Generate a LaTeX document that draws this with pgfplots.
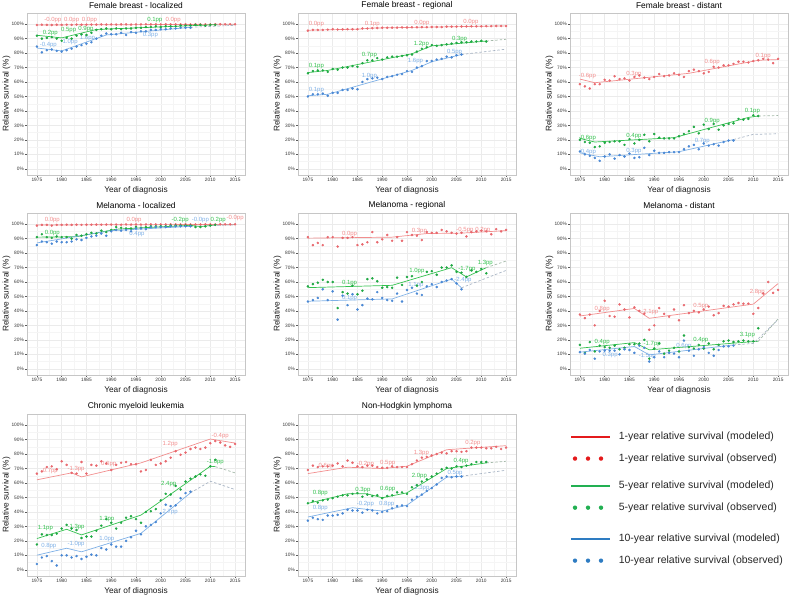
\documentclass[border=0pt]{standalone}
\usepackage{pgfplots}
\pgfplotsset{compat=1.18}
\usepackage{fontspec}
\setmainfont{Liberation Sans}

\definecolor{r1line}{HTML}{F28E8E}
\definecolor{r1pt}{HTML}{E8686E}
\definecolor{g5line}{HTML}{33C14E}
\definecolor{g5pt}{HTML}{1FA843}
\definecolor{b10line}{HTML}{7EB0E6}
\definecolor{b10pt}{HTML}{4A88D4}
\definecolor{d5col}{HTML}{A3B8A8}
\definecolor{d10col}{HTML}{A8B4C4}
\definecolor{c1L}{HTML}{E41A1C}
\definecolor{c5L}{HTML}{22B052}
\definecolor{c10L}{HTML}{2E7CC2}

\pgfplotsset{
  panel/.style={
    scale only axis, width=218pt, height=162pt, anchor=south west,
    xmin=1973, xmax=2017, ymin=-4.3, ymax=107.7,
    xtick={1975,1980,...,2015}, ytick={0,10,...,100},
    minor xtick={1977.5,1982.5,...,2012.5}, minor ytick={5,15,...,95},
    grid=both,
    major grid style={draw=gray!16, line width=0.4pt},
    minor grid style={draw=gray!8, line width=0.3pt},
    axis line style={draw=gray!45, line width=0.6pt},
    tick align=outside, tick pos=left,
    major tick length=2pt, minor tick length=0pt,
    tick style={draw=black!65, line width=0.4pt},
    /pgf/number format/assume math mode=true,
    ticklabel style={font=\fontsize{4.8}{5}\selectfont, text=black!80, inner sep=1pt},
    xticklabel style={/pgf/number format/1000 sep={}},
    yticklabel={\pgfmathprintnumber{\tick}\%},
    xlabel={Year of diagnosis}, ylabel={Relative survival (\%)},
    label style={font=\fontsize{8.3}{9}\selectfont, text=black!90},
    xlabel style={at={(0.5,-0.0926)}, anchor=center},
    ylabel style={at={(-0.094,0.5)}, anchor=center},
    every axis title shift=0pt,
    title style={at={(0.5,1.045)}, anchor=center, font=\fontsize{8.4}{9}\selectfont, inner sep=0pt},
    clip=false,
  },
  o1/.style={only marks, mark=*, mark size=1.05pt, color=r1pt},
  o5/.style={only marks, mark=*, mark size=1.05pt, color=g5pt},
  o10/.style={only marks, mark=*, mark size=1.05pt, color=b10pt},
  m1/.style={no marks, color=r1line, line width=0.7pt},
  m5/.style={no marks, color=g5line, line width=0.7pt},
  m10/.style={no marks, color=b10line, line width=0.7pt},
  d5/.style={no marks, color=d5col, line width=0.7pt, dash pattern=on 2.5pt off 2pt},
  d10/.style={no marks, color=d10col, line width=0.7pt, dash pattern=on 2.5pt off 2pt},
  legaxis/.style={hide axis, scale only axis, width=218pt, height=162pt,
    at={(570pt,19pt)}, anchor=south west, xmin=0, xmax=1, ymin=0, ymax=1,
    legend cell align=left,
    legend style={draw=none, fill=none, inner sep=0pt, anchor=north west,
      font=\fontsize{10.5}{12}\selectfont, text=black!85, row sep=12pt,
      nodes={inner sep=0pt, text height=7.6pt, text depth=2pt},
      /tikz/every odd column/.append style={column sep=8pt}}},
}
\tikzset{
  l1/.style={text=r1line, font=\fontsize{6}{6}\selectfont, inner sep=0pt},
  l5/.style={text=g5line, font=\fontsize{6}{6}\selectfont, inner sep=0pt},
  l10/.style={text=b10line, font=\fontsize{6}{6}\selectfont, inner sep=0pt},
}
\newcommand{\legline}[1]{\addlegendimage{no marks, legend image code/.code={\draw[#1, line width=1.6pt] (0pt,0pt) -- (39pt,0pt);}}}
\newcommand{\legdots}[1]{\addlegendimage{no marks, draw=none, legend image code/.code={\path[draw=none] (0pt,0pt) -- (39pt,0pt);
      \fill[#1, draw=none] (4pt,0pt) circle (2.2pt) (17pt,0pt) circle (2.2pt) (30pt,0pt) circle (2.2pt);}}}

\begin{document}
\begin{tikzpicture}
\path[use as bounding box] (0pt,0pt) rectangle (790pt,595pt);

% Female breast - localized
\begin{axis}[panel, at={(27pt,420pt)}, title={Female breast - localized}]
\addplot[o1] coordinates {(1975,99.4)(1976,99.6)(1977,99.5)(1978,99.4)(1979,99.6)(1980,99.5)(1981,99.6)(1982,99.5)(1983,99.7)(1984,99.6)(1985,99.6)(1986,99.7)(1987,99.7)(1988,99.8)(1989,99.7)(1990,99.8)(1991,99.7)(1992,99.8)(1993,99.8)(1994,99.7)(1995,99.8)(1996,99.8)(1997,99.9)(1998,99.8)(1999,99.9)(2000,99.8)(2001,99.9)(2002,99.9)(2003,99.8)(2004,99.9)(2005,99.9)(2006,99.8)(2007,99.9)(2008,99.9)(2009,99.9)(2010,99.8)(2011,99.9)(2012,99.9)(2013,99.9)(2014,99.9)(2015,99.9)};
\addplot[o5] coordinates {(1975,92)(1976,90)(1977,90.5)(1978,91)(1979,90)(1980,88.5)(1981,90.5)(1982,90)(1983,92)(1984,93)(1985,92.5)(1986,94)(1987,96)(1988,96.5)(1989,97)(1990,96.5)(1991,97)(1992,96.5)(1993,97)(1994,97)(1995,97.5)(1996,97.5)(1997,98)(1998,98)(1999,98.5)(2000,98)(2001,98.5)(2002,98.5)(2003,98.5)(2004,99)(2005,99)(2006,99)(2007,99.5)(2008,99.5)(2009,99)(2010,99.5)(2011,99.5)};
\addplot[o10] coordinates {(1975,84.5)(1976,80.5)(1977,82)(1978,82.5)(1979,81.5)(1980,81)(1981,82)(1982,83)(1983,84.5)(1984,85.5)(1985,86.5)(1986,87.5)(1987,90)(1988,92)(1989,93.5)(1990,93)(1991,93)(1992,94)(1993,92.5)(1994,94.5)(1995,94)(1996,95)(1997,95)(1998,96)(1999,96)(2000,96.5)(2001,96.5)(2002,97)(2003,97)(2004,97.5)(2005,97.5)(2006,97.5)};
\addplot[m1] coordinates {(1975,99.4)(2015,99.9)};
\addplot[m5] coordinates {(1975,92.3)(1980,90.5)(1987,96.3)(2011,99.6)};
\addplot[d5] coordinates {(2011,99.6)(2015,99.8)};
\addplot[m10] coordinates {(1975,83.5)(1980,81.5)(1989,92.5)(2006,97.8)};
\addplot[d10] coordinates {(2006,97.8)(2015,99.2)};
\node[l1] at (axis cs:1978.2,102.8) {-0.0pp};
\node[l1] at (axis cs:1982,102.8) {0.0pp};
\node[l1] at (axis cs:1985.6,102.8) {0.0pp};
\node[l1] at (axis cs:2002.5,102.8) {0.0pp};
\node[l5] at (axis cs:1977.7,93.8) {0.2pp};
\node[l5] at (axis cs:1981.4,96) {0.5pp};
\node[l5] at (axis cs:1984.9,96.8) {0.9pp};
\node[l5] at (axis cs:1998.8,103) {0.1pp};
\node[l10] at (axis cs:1977.3,85.7) {-0.4pp};
\node[l10] at (axis cs:1981.7,87.4) {1.0pp};
\node[l10] at (axis cs:1985.2,90.3) {1.6pp};
\node[l10] at (axis cs:1997.9,92.6) {0.3pp};
\end{axis}

% Female breast - regional
\begin{axis}[panel, at={(298pt,420pt)}, title={Female breast - regional}]
\addplot[o1] coordinates {(1975,95.5)(1976,96)(1977,96)(1978,96)(1979,96.2)(1980,96.5)(1981,96.3)(1982,96.4)(1983,96.5)(1984,96.5)(1985,96.5)(1986,97)(1987,97)(1988,97.2)(1989,97.3)(1990,97.5)(1991,97.5)(1992,97.6)(1993,97.6)(1994,97.7)(1995,97.7)(1996,97.8)(1997,97.8)(1998,97.9)(1999,97.9)(2000,98)(2001,98)(2002,98)(2003,98.3)(2004,98.3)(2005,98.3)(2006,98.4)(2007,98.4)(2008,98.5)(2009,98.5)(2010,98.5)(2011,98.6)(2012,98.6)(2013,98.7)(2014,98.7)(2015,98.7)};
\addplot[o5] coordinates {(1975,66)(1976,67.5)(1977,68)(1978,68)(1979,67)(1980,69)(1981,68.5)(1982,70)(1983,70)(1984,71)(1985,70.5)(1986,73)(1987,75)(1988,75)(1989,76.5)(1990,75.5)(1991,77)(1992,77.5)(1993,77.5)(1994,78)(1995,78.5)(1996,79)(1997,81)(1998,83)(1999,84)(2000,85.5)(2001,85)(2002,85.5)(2003,86)(2004,86.5)(2005,87)(2006,87.5)(2007,87.5)(2008,88)(2009,88)(2010,88.5)(2011,88)};
\addplot[o10] coordinates {(1975,50)(1976,51.5)(1977,51.5)(1978,52)(1979,50.5)(1980,52.5)(1981,52.5)(1982,54.5)(1983,54.5)(1984,55.5)(1985,55)(1986,60)(1987,62)(1988,62.5)(1989,63)(1990,62)(1991,63.5)(1992,64)(1993,65)(1994,65.5)(1995,67.5)(1996,67)(1997,70)(1998,71)(1999,74.5)(2000,74.5)(2001,75.5)(2002,76)(2003,77.5)(2004,77)(2005,78.5)(2006,79)};
\addplot[m1] coordinates {(1975,95.8)(1985,96.5)(1988,97.3)(2015,98.8)};
\addplot[m5] coordinates {(1975,66.5)(1979,68)(1996,79.5)(2000,85)(2011,88.3)};
\addplot[d5] coordinates {(2011,88.3)(2015,89.5)};
\addplot[m10] coordinates {(1975,50.5)(1979,51.5)(1996,68)(2000,74)(2006,79)};
\addplot[d10] coordinates {(2006,79)(2015,82.7)};
\node[l1] at (axis cs:1976.7,100) {0.0pp};
\node[l1] at (axis cs:1988,100.3) {0.1pp};
\node[l1] at (axis cs:1998,101) {0.0pp};
\node[l1] at (axis cs:2007.9,101.4) {0.0pp};
\node[l5] at (axis cs:1976.7,70.7) {0.1pp};
\node[l5] at (axis cs:1987.4,78.8) {0.7pp};
\node[l5] at (axis cs:1997.9,86.4) {1.2pp};
\node[l5] at (axis cs:2005.6,89.9) {0.3pp};
\node[l10] at (axis cs:1976.7,54.1) {0.1pp};
\node[l10] at (axis cs:1987.4,63.8) {1.0pp};
\node[l10] at (axis cs:1996.7,74.7) {1.6pp};
\node[l10] at (axis cs:2004.6,80.6) {0.5pp};
\end{axis}

% Female breast - distant
\begin{axis}[panel, at={(570pt,420pt)}, title={Female breast - distant}]
\addplot[o1] coordinates {(1975,58.5)(1976,57)(1977,55.5)(1978,58.5)(1979,58.5)(1980,61.5)(1981,61)(1982,64)(1983,62)(1984,62.5)(1985,61)(1986,63.5)(1987,64.5)(1988,63)(1989,62)(1990,63.5)(1991,65.5)(1992,64)(1993,64.5)(1994,66)(1995,65)(1996,63.5)(1997,67.5)(1998,68.5)(1999,67.5)(2000,66)(2001,67)(2002,70.5)(2003,70)(2004,71.5)(2005,71.5)(2006,72.5)(2007,74)(2008,74)(2009,73.5)(2010,74.5)(2011,75)(2012,76)(2013,75.5)(2014,73)(2015,76)};
\addplot[o5] coordinates {(1975,20)(1976,18.5)(1977,18)(1978,15)(1979,15.5)(1980,18)(1981,18.5)(1982,19)(1983,19)(1984,16.5)(1985,20.5)(1986,17.5)(1987,20)(1988,23.5)(1989,19)(1990,24)(1991,21.5)(1992,21)(1993,21)(1994,21)(1995,22.5)(1996,24)(1997,26)(1998,29)(1999,24.5)(2000,30.5)(2001,27.5)(2002,31)(2003,27)(2004,30)(2005,31)(2006,31.5)(2007,34.5)(2008,34)(2009,34.5)(2010,37)(2011,36.5)};
\addplot[o10] coordinates {(1975,12)(1976,10)(1977,9)(1978,7.5)(1979,5.5)(1980,8.5)(1981,10)(1982,7)(1983,9.5)(1984,8.5)(1985,10.5)(1986,7.5)(1987,8)(1988,14.5)(1989,9.5)(1990,12.5)(1991,11)(1992,11)(1993,11.5)(1994,11.5)(1995,11.5)(1996,13.5)(1997,15.5)(1998,16.5)(1999,13.5)(2000,17.5)(2001,16)(2002,17)(2003,16)(2004,18.5)(2005,19.5)(2006,19.5)};
\addplot[m1] coordinates {(1975,62)(1978,59.5)(1997,66)(2011,75)(2015,75.5)};
\addplot[m5] coordinates {(1975,21)(1978,18.5)(1994,21.5)(2009,35.5)(2011,36.5)};
\addplot[d5] coordinates {(2011,36.5)(2015,36.8)};
\addplot[m10] coordinates {(1975,11)(1979,8.3)(1995,11.8)(2006,20.2)};
\addplot[d10] coordinates {(2006,20.2)(2010,23.8)(2015,24.2)};
\node[l1] at (axis cs:1976.5,63.9) {-0.6pp};
\node[l1] at (axis cs:1985.9,65.5) {0.3pp};
\node[l1] at (axis cs:2001.7,73.6) {0.6pp};
\node[l1] at (axis cs:2012,77.7) {0.1pp};
\node[l5] at (axis cs:1976.5,21.4) {-0.6pp};
\node[l5] at (axis cs:1985.9,22.5) {0.4pp};
\node[l5] at (axis cs:2001.7,32.9) {0.9pp};
\node[l5] at (axis cs:2009.8,39.8) {0.1pp};
\node[l10] at (axis cs:1976.5,11.5) {-0.4pp};
\node[l10] at (axis cs:1985.9,12.6) {0.3pp};
\node[l10] at (axis cs:1999.7,19.1) {0.7pp};
\end{axis}

% Melanoma - localized
\begin{axis}[panel, at={(27pt,220pt)}, title={Melanoma - localized}]
\addplot[o1] coordinates {(1975,99)(1976,99.5)(1977,99.5)(1978,99)(1979,99.5)(1980,99.5)(1981,99.6)(1982,99.5)(1983,99.6)(1984,99.5)(1985,99.6)(1986,99.6)(1987,99.7)(1988,99.6)(1989,99.7)(1990,99.7)(1991,99.7)(1992,99.6)(1993,99.8)(1994,99.7)(1995,99.8)(1996,99.7)(1997,99.8)(1998,99.8)(1999,99.8)(2000,99.8)(2001,99.8)(2002,99.9)(2003,99.8)(2004,99.8)(2005,99.9)(2006,99.8)(2007,99.8)(2008,99.8)(2009,99.8)(2010,99.9)(2011,99.8)(2012,99.9)(2013,99.9)(2014,99.8)(2015,99.9)};
\addplot[o5] coordinates {(1975,91)(1976,93)(1977,91)(1978,90.5)(1979,91.5)(1980,91)(1981,91)(1982,90)(1983,92.5)(1984,92)(1985,93)(1986,94)(1987,93.5)(1988,95.5)(1989,94.5)(1990,96)(1991,98)(1992,97.5)(1993,97)(1994,97)(1995,98)(1996,97.5)(1997,98)(1998,98.5)(1999,98.5)(2000,98.5)(2001,98.5)(2002,99)(2003,99)(2004,99)(2005,99)(2006,99)(2007,98)(2008,98)(2009,98.5)(2010,99)(2011,99.5)};
\addplot[o10] coordinates {(1975,85.5)(1976,88)(1977,87.5)(1978,86.5)(1979,88)(1980,87.5)(1981,87.5)(1982,88)(1983,89.5)(1984,89)(1985,90.5)(1986,91.5)(1987,92)(1988,93.5)(1989,92)(1990,95)(1991,96)(1992,95.5)(1993,96)(1994,95)(1995,97)(1996,97)(1997,96.5)(1998,98)(1999,98)(2000,98)(2001,98)(2002,98.5)(2003,98.5)(2004,98.5)(2005,98.5)(2006,98.5)};
\addplot[m1] coordinates {(1975,99.4)(2015,99.8)};
\addplot[m5] coordinates {(1975,91)(1983,91.3)(1991,96.5)(2006,99.2)(2008,98.3)(2011,99.4)};
\addplot[d5] coordinates {(2011,99.4)(2015,99.8)};
\addplot[m10] coordinates {(1975,87)(1990,95.5)(2006,98.5)};
\addplot[d10] coordinates {(2006,98.5)(2015,99.5)};
\node[l1] at (axis cs:1978.1,102.5) {0.0pp};
\node[l1] at (axis cs:1994.6,102.5) {0.0pp};
\node[l1] at (axis cs:2015,103.9) {-0.0pp};
\node[l5] at (axis cs:1978.1,93.8) {0.0pp};
\node[l5] at (axis cs:2003.9,102.5) {-0.2pp};
\node[l10] at (axis cs:2008,102.5) {-0.0pp};
\node[l5] at (axis cs:2011.6,102.5) {0.2pp};
\node[l10] at (axis cs:1995.2,93.3) {0.4pp};
\end{axis}

% Melanoma - regional
\begin{axis}[panel, at={(298pt,220pt)}, title={Melanoma - regional}]
\addplot[o1] coordinates {(1975,91)(1976,85.5)(1977,87)(1978,85.5)(1979,91)(1980,91)(1981,84.5)(1982,90.5)(1983,90.5)(1984,91)(1985,85.5)(1986,86)(1987,87.5)(1988,94.5)(1989,87.5)(1990,89.5)(1991,92.5)(1992,88.5)(1993,91)(1994,88.5)(1995,94.5)(1996,92.5)(1997,92)(1998,89)(1999,94.5)(2000,94)(2001,94)(2002,96)(2003,95)(2004,94)(2005,93.5)(2006,94)(2007,91.5)(2008,94.5)(2009,95)(2010,95.5)(2011,95)(2012,93)(2013,96.5)(2014,95)(2015,96)};
\addplot[o5] coordinates {(1975,57)(1976,58.5)(1977,59.5)(1978,61.5)(1979,60)(1980,60)(1981,42)(1982,53)(1983,52)(1984,57.5)(1985,51.5)(1986,54)(1987,62)(1988,62.5)(1989,60.5)(1990,56)(1991,56.5)(1992,56)(1993,63)(1994,58)(1995,63.5)(1996,64)(1997,57.5)(1998,60)(1999,67)(2000,67.5)(2001,65)(2002,70)(2003,70)(2004,71.5)(2005,67)(2006,66.5)(2007,63.5)(2008,68)(2009,67)(2010,69)(2011,66)};
\addplot[o10] coordinates {(1975,46.5)(1976,47.5)(1977,49)(1978,55)(1979,47.5)(1980,53.5)(1981,34)(1982,50.5)(1983,44)(1984,51.5)(1985,41)(1986,44)(1987,48.5)(1988,48)(1989,53)(1990,49)(1991,47.5)(1992,47)(1993,52)(1994,46.5)(1995,54.5)(1996,56)(1997,52)(1998,51)(1999,57)(2000,58.5)(2001,56.5)(2002,60)(2003,61)(2004,62)(2005,59)(2006,55)};
\addplot[m1] coordinates {(1975,90.3)(1992,91)(1999,93.5)(2006,93.8)(2015,95.5)};
\addplot[m5] coordinates {(1975,56.1)(1992,57.7)(2004,69.9)(2007,63.5)(2011,69.9)};
\addplot[d5] coordinates {(2011,69.9)(2015,74.5)};
\addplot[m10] coordinates {(1975,46.7)(1992,48.3)(2004,62)(2006,56)};
\addplot[d10] coordinates {(2006,56)(2015,68)};
\node[l1] at (axis cs:1983.4,93.3) {0.0pp};
\node[l1] at (axis cs:1997.5,95.2) {0.3pp};
\node[l1] at (axis cs:2006.7,95.6) {-0.5pp};
\node[l1] at (axis cs:2010.3,96.1) {0.2pp};
\node[l5] at (axis cs:1983.4,59.3) {0.1pp};
\node[l5] at (axis cs:1997,67.6) {1.0pp};
\node[l5] at (axis cs:2007.1,69.2) {-1.7pp};
\node[l5] at (axis cs:2010.8,73.1) {1.3pp};
\node[l10] at (axis cs:1983.4,49.2) {0.1pp};
\node[l10] at (axis cs:1996.8,58.2) {1.1pp};
\node[l10] at (axis cs:2006.3,61.1) {-2.4pp};
\end{axis}

% Melanoma - distant
\begin{axis}[panel, at={(570pt,220pt)}, title={Melanoma - distant}]
\addplot[o1] coordinates {(1975,37.5)(1976,35)(1977,37.5)(1978,30)(1979,40)(1980,47)(1981,36.5)(1982,36)(1983,44.5)(1984,41)(1985,35.5)(1986,42.5)(1987,40)(1988,38)(1989,27)(1990,30)(1991,42)(1992,38)(1993,36)(1994,41)(1995,33.5)(1996,44)(1997,38.5)(1998,40)(1999,39)(2000,41)(2001,43)(2002,37)(2003,38.5)(2004,43.5)(2005,43)(2006,44.5)(2007,45.5)(2008,45)(2009,45)(2010,38)(2011,42)(2012,52)(2013,60)(2014,52.5)(2015,54.5)};
\addplot[o5] coordinates {(1975,16.5)(1976,11)(1977,18.5)(1978,12)(1979,16)(1980,15)(1981,14.5)(1982,16)(1983,13.5)(1984,14.5)(1985,17)(1986,17)(1987,17.5)(1988,20)(1989,7)(1990,14)(1991,17.5)(1992,10.5)(1993,12.5)(1994,14.5)(1995,12)(1996,23)(1997,15)(1998,14)(1999,16.5)(2000,14)(2001,17.5)(2002,13.5)(2003,16.5)(2004,19)(2005,19.5)(2006,18.5)(2007,19)(2008,19.5)(2009,19)(2010,19)(2011,28)};
\addplot[o10] coordinates {(1975,11.5)(1976,10.5)(1977,13)(1978,7)(1979,12)(1980,12.5)(1981,12.5)(1982,12.5)(1983,10)(1984,13.5)(1985,13)(1986,11)(1987,16)(1988,14.5)(1989,5)(1990,8)(1991,12)(1992,8)(1993,11)(1994,10.5)(1995,8)(1996,19.5)(1997,12.5)(1998,9)(1999,13.5)(2000,15)(2001,11)(2002,9)(2003,13)(2004,15.5)(2005,15.5)(2006,16)};
\addplot[m1] coordinates {(1975,36.5)(1986,41.7)(1989,34.9)(2010,44.7)(2015,58.9)};
\addplot[m5] coordinates {(1975,14.2)(1986,18.1)(1989,13.1)(2010,18.8)(2011,19)};
\addplot[d5] coordinates {(2011,19)(2015,34.5)};
\addplot[m10] coordinates {(1975,11.5)(1986,15.4)(1989,9.6)(2006,16.5)};
\addplot[d10] coordinates {(2006,16.5)(2010,17.5)(2015,34)};
\node[l1] at (axis cs:1979.5,41.3) {0.8pp};
\node[l1] at (axis cs:1989.1,39.4) {-2.1pp};
\node[l1] at (axis cs:1999.4,43.3) {0.5pp};
\node[l1] at (axis cs:2010.8,53.2) {2.8pp};
\node[l5] at (axis cs:1979.5,18.8) {0.4pp};
\node[l5] at (axis cs:1989.6,17) {-1.7pp};
\node[l5] at (axis cs:1999.4,20) {0.4pp};
\node[l5] at (axis cs:2008.8,23.4) {3.1pp};
\node[l10] at (axis cs:1981.1,9.6) {0.3pp};
\node[l10] at (axis cs:1988.6,8.5) {-1.5pp};
\node[l10] at (axis cs:1996,15.4) {0.6pp};
\end{axis}

% Chronic myeloid leukemia
\begin{axis}[panel, at={(27pt,19pt)}, title={Chronic myeloid leukemia}]
\addplot[o1] coordinates {(1975,66.5)(1976,68)(1977,71)(1978,71.5)(1979,69.5)(1980,75)(1981,72.5)(1982,67)(1983,66.5)(1984,74.5)(1985,66.5)(1986,72.5)(1987,72)(1988,75)(1989,73.5)(1990,69)(1991,72.5)(1992,74)(1993,74.5)(1994,73)(1995,73)(1996,68)(1997,69)(1998,76)(1999,72.5)(2000,73.5)(2001,75)(2002,77.5)(2003,82)(2004,79.5)(2005,81)(2006,83.5)(2007,84.5)(2008,83.5)(2009,84.5)(2010,87.5)(2011,89)(2012,88)(2013,86)(2014,85)(2015,87)};
\addplot[o5] coordinates {(1975,17.5)(1976,24.5)(1977,24)(1978,24)(1979,25)(1980,28.5)(1981,31)(1982,28.5)(1983,27.5)(1984,22)(1985,23)(1986,23)(1987,27)(1988,30.5)(1989,35)(1990,32.5)(1991,28.5)(1992,32.5)(1993,36)(1994,37)(1995,35)(1996,32.5)(1997,40)(1998,40.5)(1999,42)(2000,48)(2001,52.5)(2002,52)(2003,58)(2004,55.5)(2005,61)(2006,63)(2007,64.5)(2008,66)(2009,65)(2010,71.5)(2011,76)};
\addplot[o10] coordinates {(1975,4)(1976,8.5)(1977,9.5)(1978,6)(1979,3)(1980,10)(1981,10)(1982,8.5)(1983,9.5)(1984,7.5)(1985,9)(1986,10.5)(1987,10)(1988,15)(1989,14)(1990,17.5)(1991,16)(1992,16)(1993,20)(1994,22.5)(1995,27)(1996,24.5)(1997,30)(1998,31)(1999,33)(2000,39)(2001,45)(2002,44)(2003,44.5)(2004,49.5)(2005,53)(2006,54)};
\addplot[m1] coordinates {(1975,62.2)(1982,67)(1984,64.2)(1996,73.9)(2010,90.4)(2015,87.6)};
\addplot[m5] coordinates {(1975,21.6)(1981,28)(1984,24.1)(1996,37.8)(2010,71.6)(2011,71.3)};
\addplot[d5] coordinates {(2011,71.3)(2015,67)};
\addplot[m10] coordinates {(1975,10.1)(1981,14.9)(1984,12.4)(1996,25.2)(2006,53.2)};
\addplot[d10] coordinates {(2006,53.2)(2010,61.2)(2015,55.5)};
\node[l1] at (axis cs:1977.7,68.1) {0.7pp};
\node[l1] at (axis cs:1982.9,69.7) {-1.3pp};
\node[l1] at (axis cs:1989.5,73.2) {0.6pp};
\node[l1] at (axis cs:2001.9,87.2) {1.2pp};
\node[l1] at (axis cs:2012,92.7) {-0.4pp};
\node[l5] at (axis cs:1976.7,29.1) {1.1pp};
\node[l5] at (axis cs:1982.9,29.6) {-1.3pp};
\node[l5] at (axis cs:1989.1,34.9) {1.3pp};
\node[l5] at (axis cs:2001.6,59.6) {2.4pp};
\node[l5] at (axis cs:2011,74.3) {-1.0pp};
\node[l10] at (axis cs:1977.4,16.5) {0.8pp};
\node[l10] at (axis cs:1982.9,17.7) {-1.0pp};
\node[l10] at (axis cs:1989.1,21.1) {1.0pp};
\node[l10] at (axis cs:2001.9,40.1) {2.7pp};
\end{axis}

% Non-Hodgkin lymphoma
\begin{axis}[panel, at={(298pt,19pt)}, title={Non-Hodgkin lymphoma}]
\addplot[o1] coordinates {(1975,69)(1976,72)(1977,71)(1978,71.5)(1979,71.5)(1980,72)(1981,73.5)(1982,71.5)(1983,75.5)(1984,74)(1985,71.5)(1986,71)(1987,72)(1988,72)(1989,71)(1990,70.5)(1991,70.5)(1992,71.5)(1993,71)(1994,71)(1995,71)(1996,73)(1997,75.5)(1998,77.5)(1999,78)(2000,79)(2001,80)(2002,81)(2003,80.5)(2004,82)(2005,82)(2006,81.5)(2007,82)(2008,84.5)(2009,84.5)(2010,84.5)(2011,84)(2012,84)(2013,85)(2014,83.5)(2015,84.5)};
\addplot[o5] coordinates {(1975,46)(1976,47.5)(1977,46.5)(1978,48)(1979,48.5)(1980,49.5)(1981,50.5)(1982,51.5)(1983,51.5)(1984,52.5)(1985,53)(1986,50.5)(1987,52)(1988,51)(1989,51.5)(1990,49.5)(1991,51)(1992,51.5)(1993,53.5)(1994,53.5)(1995,52.5)(1996,57)(1997,58.5)(1998,61)(1999,62.5)(2000,64.5)(2001,66.5)(2002,69.5)(2003,70.5)(2004,70)(2005,71.5)(2006,71)(2007,72)(2008,73)(2009,74.5)(2010,74.5)(2011,74.5)};
\addplot[o10] coordinates {(1975,34)(1976,36)(1977,35)(1978,34.5)(1979,37.5)(1980,37.5)(1981,38)(1982,39)(1983,41.5)(1984,41)(1985,41)(1986,39.5)(1987,41.5)(1988,41)(1989,39)(1990,40)(1991,40.5)(1992,42.5)(1993,44)(1994,44.5)(1995,44)(1996,48.5)(1997,50.5)(1998,52)(1999,54.5)(2000,56.5)(2001,59)(2002,63.5)(2003,64.5)(2004,64)(2005,64.5)(2006,64.5)};
\addplot[m1] coordinates {(1975,66.5)(1983,70.9)(1990,70)(1995,71.6)(2003,83)(2015,85.8)};
\addplot[m5] coordinates {(1975,45.9)(1983,52.5)(1987,52.5)(1990,49.8)(1995,53.2)(2003,70)(2011,73.9)};
\addplot[d5] coordinates {(2011,73.9)(2015,75)};
\addplot[m10] coordinates {(1975,36.5)(1984,42.9)(1990,40.6)(1995,44.7)(2003,64)(2006,64.7)};
\addplot[d10] coordinates {(2006,64.7)(2015,68.8)};
\node[l1] at (axis cs:1978.7,71.6) {0.6pp};
\node[l1] at (axis cs:1986.6,73.2) {-0.2pp};
\node[l1] at (axis cs:1991.1,73.9) {0.5pp};
\node[l1] at (axis cs:1997.9,80.7) {1.3pp};
\node[l1] at (axis cs:2008.3,87.6) {0.2pp};
\node[l5] at (axis cs:1977.5,53.2) {0.8pp};
\node[l5] at (axis cs:1986.1,55) {0.3pp};
\node[l5] at (axis cs:1991.1,55.5) {0.6pp};
\node[l5] at (axis cs:1997.5,65.1) {2.0pp};
\node[l5] at (axis cs:2005.9,75) {0.4pp};
\node[l10] at (axis cs:1977.5,42.9) {0.8pp};
\node[l10] at (axis cs:1986.6,45.2) {-0.2pp};
\node[l10] at (axis cs:1990.9,45.6) {0.8pp};
\node[l10] at (axis cs:1998,56.7) {2.3pp};
\node[l10] at (axis cs:2004.7,67) {0.5pp};
\end{axis}

% legend
\begin{axis}[legaxis, legend style={at={(0,0.889)}}]
\legline{c1L}
\addlegendentry{1-year relative survival (modeled)}
\legdots{c1L}
\addlegendentry{1-year relative survival (observed)}
\end{axis}
\begin{axis}[legaxis, legend style={at={(0,0.586)}}]
\legline{c5L}
\addlegendentry{5-year relative survival (modeled)}
\legdots{c5L}
\addlegendentry{5-year relative survival (observed)}
\end{axis}
\begin{axis}[legaxis, legend style={at={(0,0.259)}}]
\legline{c10L}
\addlegendentry{10-year relative survival (modeled)}
\legdots{c10L}
\addlegendentry{10-year relative survival (observed)}
\end{axis}
\end{tikzpicture}
\end{document}
